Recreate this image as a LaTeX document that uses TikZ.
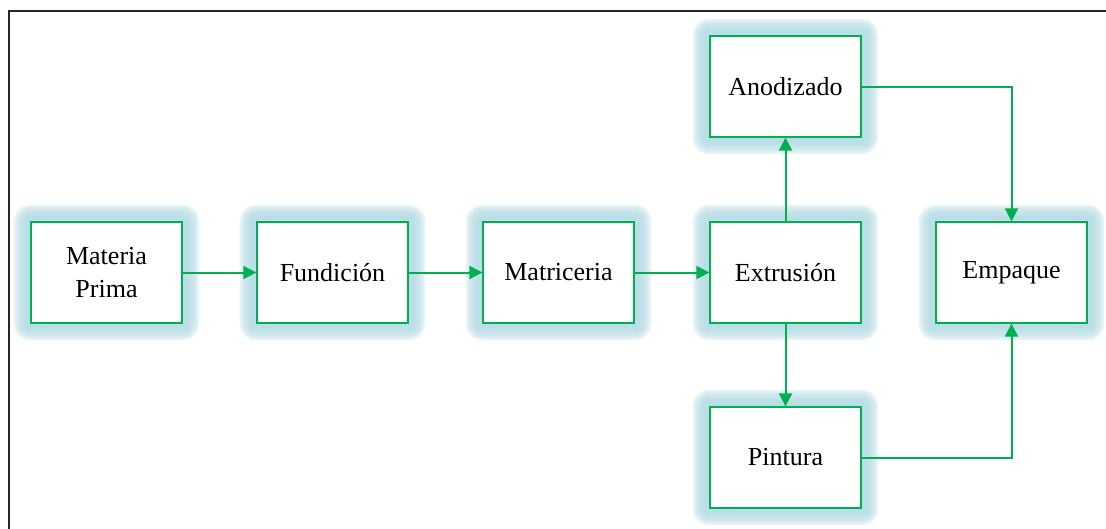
\documentclass[tikz,border=0pt]{standalone}
\usepackage{fontspec}
\setmainfont{Liberation Serif}
\usetikzlibrary{arrows.meta,backgrounds,calc}
\definecolor{flowgreen}{RGB}{0,176,80}
\definecolor{glowblue}{RGB}{186,223,232}
\tikzset{
  procbox/.style={draw=flowgreen, line width=1.3pt, fill=white,
    minimum width=151pt, minimum height=101pt, inner sep=0pt,
    align=center, font=\rmfamily\fontsize{26}{33}\selectfont},
  flow/.style={draw=flowgreen, line width=2pt,
    -{Triangle[length=13pt,width=13pt]}},
  frame/.style={draw=black!85, line width=2pt},
}
% soft halo: a solid core band followed by translucent outer rings
\newcommand{\glowaround}[1]{%
  \foreach \k in {17,...,7}{
    \fill[glowblue, fill opacity=0.17, rounded corners=\k pt]
      ($(#1.south west)+(-\k pt,-\k pt)$) rectangle ($(#1.north east)+(\k pt,\k pt)$);
  }
  \fill[glowblue, rounded corners=6pt]
    ($(#1.south west)+(-6pt,-6pt)$) rectangle ($(#1.north east)+(6pt,6pt)$);
}
\begin{document}
\begin{tikzpicture}[x=1pt,y=-1pt]
\useasboundingbox (0,0) rectangle (1106,528);
\clip (0,0) rectangle (1106,528);

% process steps
\node[procbox] (mp) at (106.5,272.5) {Materia\\Prima};
\node[procbox] (fu) at (332.5,272.5) {Fundición};
\node[procbox] (ma) at (558.5,272.5) {Matriceria};
\node[procbox] (ex) at (785.5,272.5) {Extrusión};
\node[procbox] (em) at (1011.5,272.5) {Empaque};
\node[procbox] (an) at (785.5,86.5) {Anodizado};
\node[procbox] (pi) at (785.5,457.5) {Pintura};

% page, outer frame and soft glow behind every box
\begin{scope}[on background layer]
  \fill[white] (0,0) rectangle (1106,528);
  \draw[frame] (9,560) -- (9,11) -- (1140,11);
  \foreach \n in {mp,fu,ma,ex,em,an,pi}{\glowaround{\n}}
\end{scope}

% flow connectors
\draw[flow] (mp) -- (fu);
\draw[flow] (fu) -- (ma);
\draw[flow] (ma) -- (ex);
\draw[flow] (ex) -- (an);
\draw[flow] (ex) -- (pi);
\draw[flow] (an.east) -| (em.north);
\draw[flow] (pi.east) -| (em.south);
\end{tikzpicture}
\end{document}
